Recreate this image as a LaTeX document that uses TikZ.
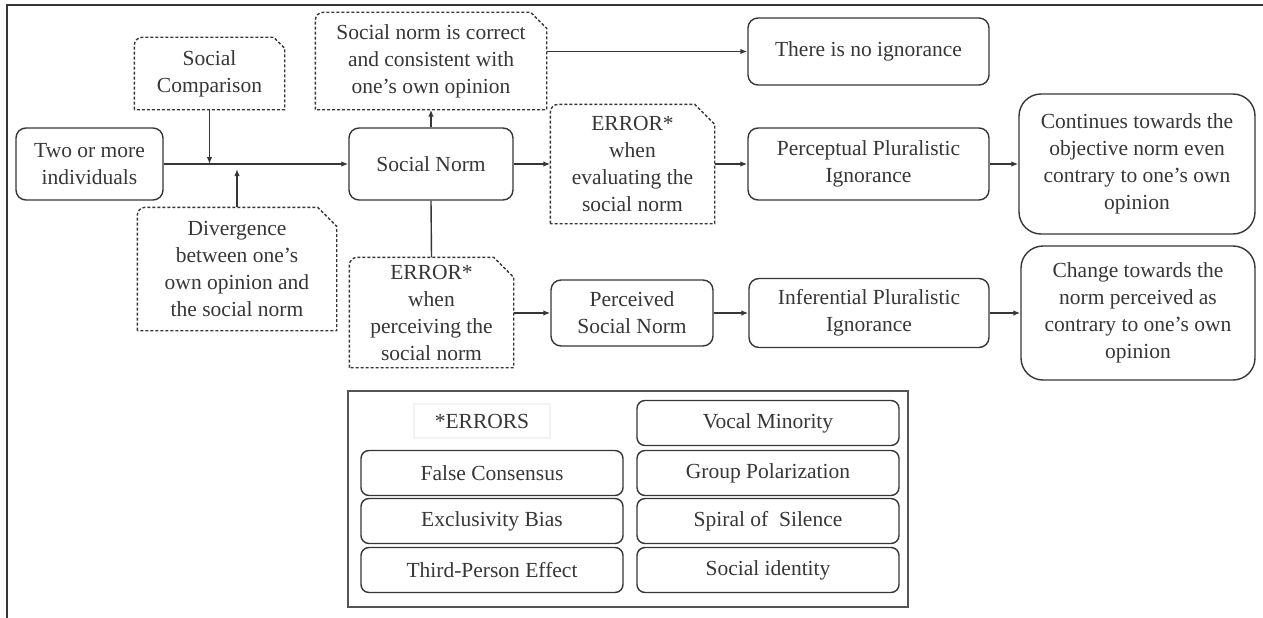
\documentclass[tikz,border=0pt]{standalone}
\usepackage{fontspec}
\setmainfont{Liberation Serif}
\usetikzlibrary{arrows.meta}
\definecolor{ink}{HTML}{363636}

\tikzstyle{box} = [draw=ink, line width=1.4pt, rounded corners=10pt, align=center, text=ink, inner sep=0pt, font=\fontsize{21.5}{27}\selectfont]
\tikzstyle{bigbox} = [box, rounded corners=22pt]
\tikzstyle{errbox} = [box, draw=none]
\tikzstyle{item} = [box, rounded corners=8pt, minimum width=262pt, minimum height=45pt]
\tikzstyle{link} = [draw=ink, line width=1.4pt, -{Latex[length=7pt,width=5.5pt]}]

% dashed outline, round top left, cut top right
\newcommand{\snipbox}[2]{%
  \draw[ink, line width=1.4pt, dash pattern=on 3pt off 2pt]
    (#1.south west) -- ([yshift=-8pt]#1.north west)
    arc[start angle=180, end angle=90, radius=8pt]
    -- ([xshift=-#2]#1.north east) -- ([yshift=-#2]#1.north east)
    -- (#1.south east) -- cycle;
}

\begin{document}
\begin{tikzpicture}[x=1pt, y=-1pt]
\useasboundingbox (0,0) rectangle (1263,618);
%frame
\draw[ink, line width=2pt] (1263,5) -- (7,5) -- (7,618);
%begin top row
\node[box, minimum width=147pt, minimum height=72pt] (two) at (89.5,164) {Two or more\\individuals};
\node[box, minimum width=164pt, minimum height=72pt] (sn) at (431,164) {Social Norm};
\node[errbox, minimum width=163pt, minimum height=118pt] (erreval) at (632.5,164) {ERROR*\\when\\evaluating the\\social norm};
\node[box, minimum width=241pt, minimum height=72pt] (ppi) at (868.5,164) {Perceptual Pluralistic\\Ignorance};
\node[bigbox, minimum width=236pt, minimum height=140pt] (cont) at (1137,164) {Continues towards the\\objective norm even\\contrary to one's own\\opinion};
%end top row
%begin side boxes
\node[errbox, minimum width=149pt, minimum height=71pt] (comp) at (209.5,73.5) {Social\\Comparison};
\node[errbox, minimum width=198pt, minimum height=122pt] (diverg) at (237,269) {Divergence\\between one's\\own opinion and\\the social norm};
\node[errbox, minimum width=230pt, minimum height=96pt] (correct) at (431,61) {Social norm is correct\\and consistent with\\one's own opinion};
\node[box, minimum width=241pt, minimum height=67pt] (noig) at (868.5,51.5) {There is no ignorance};
%end side boxes
%begin bottom row
\node[errbox, minimum width=163pt, minimum height=109pt] (errperc) at (431.5,312.5) {ERROR*\\when\\perceiving the\\social norm};
\node[box, minimum width=162pt, minimum height=66pt] (psn) at (632,313) {Perceived\\Social Norm};
\node[box, minimum width=240pt, minimum height=69pt] (ipi) at (869,313) {Inferential Pluralistic\\Ignorance};
\node[bigbox, minimum width=234pt, minimum height=134pt] (change) at (1138,313) {Change towards the\\norm perceived as\\contrary to one's own\\opinion};
%end bottom row
\snipbox{comp}{11pt}
\snipbox{diverg}{19pt}
\snipbox{correct}{16pt}
\snipbox{erreval}{20pt}
\snipbox{errperc}{20pt}
%begin arrows
\coordinate (join1) at (comp.south |- two.east);
\coordinate (join2) at ([yshift=-5pt]diverg.north |- two.east);
\draw[link] (two.east) -- (sn.west);
\draw[link] (comp.south) -- (join1);
\draw[link] (diverg.north) -- (join2);
\draw[link] (sn.north) -- (correct.south);
\draw[link] (correct.east |- noig.west) -- (noig.west);
\draw[link] (sn.east) -- (erreval.west);
\draw[link] (erreval.east) -- (ppi.west);
\draw[link] (ppi.east) -- (cont.west);
\draw[draw=ink, line width=1.4pt] (sn.south) -- (errperc.north);
\draw[link] (errperc.east |- psn.west) -- (psn.west);
\draw[link] (psn.east) -- (ipi.west);
\draw[link] (ipi.east) -- (change.west);
%end arrows
%begin legend
\node[draw=ink!85, line width=1.5pt, minimum width=560pt, minimum height=216pt] (legend) at (628,499) {};
\node[box, draw=ink!6, rounded corners=0pt, minimum width=136pt, minimum height=34pt] (errors) at (482,421) {*ERRORS};
\node[item] (fc) at (492,473) {False Consensus};
\node[item] (eb) at (492,521) {Exclusivity Bias};
\node[item] (tp) at (492,570) {Third-Person Effect};
\node[item] (vm) at (768,423) {Vocal Minority};
\node[item] (gp) at (768,473) {Group Polarization};
\node[item] (ss) at (768,521) {Spiral of\ \ Silence};
\node[item] (si) at (768,570) {Social identity};
%end legend
\end{tikzpicture}
\end{document}
